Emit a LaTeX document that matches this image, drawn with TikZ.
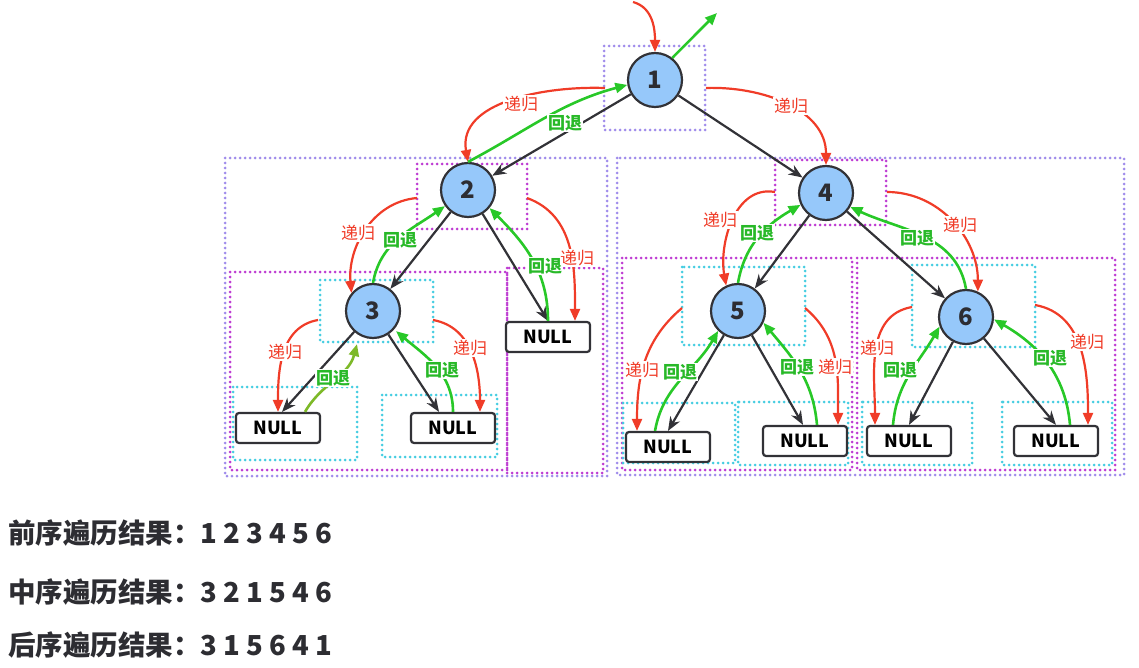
\documentclass[tikz,border=0pt]{standalone}
\usepackage{fontspec}
\setmainfont{Noto Sans CJK SC}
\usetikzlibrary{arrows.meta}
\definecolor{cred}{RGB}{240,60,40}
\definecolor{cgreen}{RGB}{40,200,40}
\definecolor{cgtext}{RGB}{40,185,40}
\definecolor{colive}{RGB}{125,185,40}
\definecolor{cedge}{RGB}{50,50,55}
\definecolor{cfill}{RGB}{150,200,250}
\definecolor{cviolet}{RGB}{160,140,235}
\definecolor{cmag}{RGB}{190,60,210}
\definecolor{ccyan}{RGB}{70,205,225}
\definecolor{ctext}{RGB}{45,45,50}
\tikzset{
  circ/.style={circle, draw=cedge, line width=2.2pt, fill=cfill, minimum size=54pt, inner sep=0pt, text=ctext, font=\bfseries\fontsize{24}{24}\selectfont},
  nullbox/.style={rectangle, rounded corners=3pt, draw=cedge, line width=2.2pt, fill=white, minimum width=84pt, minimum height=30pt, inner sep=0pt, text=black, font=\bfseries\fontsize{18}{18}\selectfont},
  edge/.style={draw=cedge, line width=2.2pt, -{Stealth[length=14pt,width=11pt]}},
  rec/.style={draw=cred, line width=2.2pt, -{Triangle[length=12pt,width=10pt]}},
  back/.style={draw=cgreen, line width=2.6pt, -{Triangle[length=12pt,width=10pt]}},
  rlab/.style={text=cred, fill=white, inner sep=1pt, font=\fontsize{17}{17}\selectfont},
  glab/.style={text=cgtext, fill=white, inner sep=1pt, font=\bfseries\fontsize{17}{17}\selectfont},
  dotbox/.style={line width=3pt, line cap=round, dash pattern=on 0pt off 5pt},
  vbox/.style={dotbox, draw=cviolet},
  mbox/.style={dotbox, draw=cmag},
  cbox/.style={dotbox, draw=ccyan},
  result/.style={anchor=west, inner sep=0pt, text=ctext, font=\bfseries\fontsize{27.5}{27.5}\selectfont}
}
\begin{document}
\begin{tikzpicture}[x=1pt,y=-1pt]
\useasboundingbox (0,0) rectangle (1139,668);
% dotted boxes
\draw[vbox] (604,46) rectangle (705,130);
\draw[vbox] (225,158) rectangle (607,476);
\draw[vbox] (617,158) rectangle (1124,475);
\draw[mbox] (417,164) rectangle (527,229);
\draw[mbox] (775,160) rectangle (886,225);
\draw[mbox] (230,272) rectangle (507,470);
\draw[mbox] (507,268) rectangle (603,473);
\draw[mbox] (622,258) rectangle (852,470);
\draw[mbox] (857,258) rectangle (1115,470);
\draw[cbox] (320,280) rectangle (433,342);
\draw[cbox] (233,387) rectangle (357,460);
\draw[cbox] (382,395) rectangle (497,457);
\draw[cbox] (682,267) rectangle (805,345);
\draw[cbox] (623,403) rectangle (735,463);
\draw[cbox] (738,402) rectangle (848,465);
\draw[cbox] (912,265) rectangle (1035,347);
\draw[cbox] (862,402) rectangle (972,465);
\draw[cbox] (1002,402) rectangle (1112,465);
% nodes
\node[circ] (n1) at (655,80) {1};
\node[circ] (n2) at (468,190) {2};
\node[circ] (n4) at (826,193) {4};
\node[circ] (n3) at (373,311) {3};
\node[circ] (n5) at (738,311) {5};
\node[circ] (n6) at (966,317) {6};
\node[nullbox] (a) at (278,428) {NULL};
\node[nullbox] (b) at (453,428) {NULL};
\node[nullbox] (c) at (548,337) {NULL};
\node[nullbox] (d) at (668,447) {NULL};
\node[nullbox] (e) at (805,441) {NULL};
\node[nullbox] (f) at (909,441) {NULL};
\node[nullbox] (g) at (1056,441) {NULL};
% free ends
\coordinate (in0) at (633,2);
\coordinate (out0) at (717,13);
\coordinate (r12) at (605,88);
\coordinate (r14) at (706,88);
\coordinate (r23) at (417,198);
\coordinate (r2c) at (527,198);
\coordinate (r3a) at (318,320);
\coordinate (r3b) at (433,320);
\coordinate (r45) at (775,192);
\coordinate (r46) at (887,192);
\coordinate (r5d) at (682,308);
\coordinate (r5e) at (805,308);
\coordinate (r6f) at (912,307);
\coordinate (r6g) at (1035,305);
% tree edges
\draw[edge] (n1) -- (n2);
\draw[edge] (n1) -- (n4);
\draw[edge] (n2) -- (n3);
\draw[edge] (n2) -- (c.north);
\draw[edge] (n3) -- ([xshift=4pt]a.north);
\draw[edge] (n3) -- ([xshift=-14pt]b.north);
\draw[edge] (n4) -- (n5);
\draw[edge] (n4) -- (n6);
\draw[edge] (n5) -- (d.north);
\draw[edge] (n5) -- ([xshift=-2pt]e.north);
\draw[edge] (n6) -- (f.north);
\draw[edge] (n6) -- (g.north);
% recursion (red) and return (green)
\draw[rec] (in0) to[out=-15,in=90] (n1.north);
\draw[back] (n1.52) -- (out0);
\draw[rec] (r12) to[out=178,in=100] (n2.north);
\draw[back] (n2.north) to[out=28,in=195] (n1.190);
\draw[rec] (r14) to[out=2,in=90] (n4.north);
\draw[rec] (r23) to[out=185,in=95] (n3.140);
\draw[back] (n3.north) to[out=80,in=215] (n2.215);
\draw[rec] (r2c) to[out=-20,in=90] ([xshift=27pt]c.north);
\draw[back] (c.north) to[out=90,in=-45] (n2.-40);
\draw[rec] (r3a) to[out=190,in=90] (a.north);
\draw[draw=colive, line width=2.6pt, -{Triangle[length=12pt,width=10pt]}] ([xshift=27pt]a.north) to[out=60,in=-105] ([xshift=-16pt,yshift=-5pt]n3.south);
\draw[rec] (r3b) to[out=-10,in=90] ([xshift=27pt]b.north);
\draw[back] (b.north) to[out=90,in=-40] ([yshift=-4pt]n3.-35);
\draw[rec] (r45) to[out=170,in=100] (n5.115);
\draw[back] (n5.north) to[out=80,in=210] (n4.205);
\draw[rec] (r46) to[out=0,in=90] (n6.65);
\draw[back] (n6.north) to[out=100,in=-25] (n4.-30);
\draw[rec] (r5d) to[out=220,in=90] ([xshift=-31pt]d.north);
\draw[back] ([xshift=-13pt]d.north) to[out=80,in=-120] (n5.225);
\draw[rec] (r5e) to[out=-40,in=90] ([xshift=33pt]e.north);
\draw[back] ([xshift=12pt]e.north) to[out=95,in=-50] (n5.-25);
\draw[rec] (r6f) to[out=190,in=90] ([xshift=-34pt]f.north);
\draw[back] ([xshift=-16pt]f.north) to[out=85,in=-120] (n6.200);
\draw[rec] (r6g) to[out=-10,in=90] ([xshift=32pt]g.north);
\draw[back] ([xshift=14pt]g.north) to[out=95,in=-30] (n6.-5);
% labels
\node[rlab] (l1) at (521,104) {递归};
\node[glab] (l2) at (565,123) {回退};
\node[rlab] (l3) at (791,106) {递归};
\node[rlab] (l4) at (358,233) {递归};
\node[glab] (l5) at (400,240) {回退};
\node[rlab] (l6) at (577,258) {递归};
\node[glab] (l7) at (545,266) {回退};
\node[rlab] (l8) at (285,352) {递归};
\node[glab] (l9) at (333,378) {回退};
\node[rlab] (l10) at (470,348) {递归};
\node[glab] (l11) at (442,370) {回退};
\node[rlab] (l12) at (720,220) {递归};
\node[glab] (l13) at (757,233) {回退};
\node[rlab] (l14) at (960,225) {递归};
\node[glab] (l15) at (917,238) {回退};
\node[rlab] (l16) at (642,370) {递归};
\node[glab] (l17) at (680,372) {回退};
\node[rlab] (l18) at (835,367) {递归};
\node[glab] (l19) at (797,367) {回退};
\node[rlab] (l20) at (877,348) {递归};
\node[glab] (l21) at (900,370) {回退};
\node[rlab] (l22) at (1087,342) {递归};
\node[glab] (l23) at (1050,358) {回退};
% results
\node[result] (t1) at (8,533) {前序遍历结果：1 2 3 4 5 6};
\node[result] (t2) at (8,592) {中序遍历结果：3 2 1 5 4 6};
\node[result] (t3) at (8,645) {后序遍历结果：3 1 5 6 4 1};
\end{tikzpicture}
\end{document}
